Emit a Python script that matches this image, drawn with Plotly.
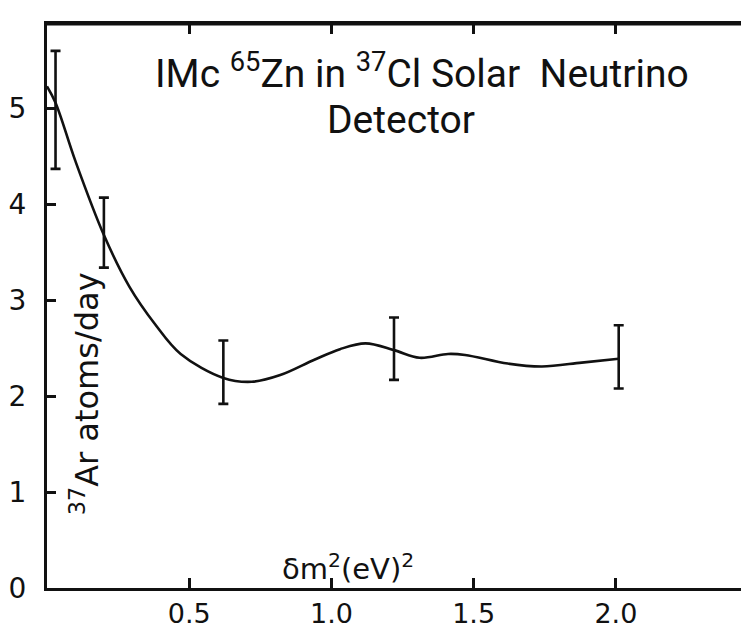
import plotly.graph_objects as go

# ---- data ----
curve_x = [0.0, 0.03, 0.10, 0.20, 0.29, 0.38, 0.47, 0.62, 0.72, 0.82, 0.94,
           1.03, 1.12, 1.22, 1.31, 1.41, 1.47, 1.62, 1.74, 1.88, 2.01]
curve_y = [5.23, 5.06, 4.45, 3.68, 3.14, 2.75, 2.44, 2.19, 2.15, 2.22, 2.38,
           2.49, 2.55, 2.48, 2.40, 2.44, 2.43, 2.34, 2.31, 2.35, 2.39]

bar_x = [0.03, 0.20, 0.62, 1.22, 2.01]
bar_hi = [5.60, 4.07, 2.58, 2.82, 2.74]
bar_lo = [4.37, 3.34, 1.92, 2.17, 2.08]

x_ticks = [0.5, 1.0, 1.5, 2.0]
x_tick_labels = ["0.5", "1.0", "1.5", "2.0"]
y_ticks = [0, 1, 2, 3, 4, 5]
y_tick_labels = ["0", "1", "2", "3", "4", "5"]

INK = "#111111"
TITLE_FONT = "Roboto"
WIDE_FONT = "DejaVu Sans"

bar_mid = [(h + l) / 2 for h, l in zip(bar_hi, bar_lo)]
bar_half = [(h - l) / 2 for h, l in zip(bar_hi, bar_lo)]

fig = go.Figure()
fig.add_trace(go.Scatter(
    x=curve_x, y=curve_y, mode="lines",
    line=dict(color=INK, width=2.6, shape="spline", smoothing=1.0),
    hoverinfo="skip", showlegend=False))
fig.add_trace(go.Scatter(
    x=bar_x, y=bar_mid, mode="markers",
    marker=dict(size=1, color="rgba(0,0,0,0)"),
    error_y=dict(type="data", array=bar_half, visible=True,
                 color=INK, thickness=2.6, width=5),
    showlegend=False))

fig.add_annotation(x=1.32, y=5.38, xref="x", yref="y", showarrow=False,
                   text="IMc <sup>65</sup>Zn in <sup>37</sup>Cl Solar  Neutrino",
                   font=dict(family=TITLE_FONT, size=39, color=INK))
fig.add_annotation(x=1.243, y=4.88, xref="x", yref="y", showarrow=False,
                   text="Detector",
                   font=dict(family=TITLE_FONT, size=39, color=INK))
fig.add_annotation(x=0.134, y=2.02, xref="x", yref="y", showarrow=False,
                   textangle=-90,
                   text="<sup>37</sup>Ar atoms/day",
                   font=dict(family=WIDE_FONT, size=32, color=INK))
fig.add_annotation(x=1.06, y=0.22, xref="x", yref="y", showarrow=False,
                   text="δm<sup>2</sup>(eV)<sup>2</sup>",
                   font=dict(family=WIDE_FONT, size=29, color=INK))

# top frame line of the plotting area
fig.add_shape(type="line", xref="paper", yref="paper", x0=0, x1=1, y0=1, y1=1,
              line=dict(color=INK, width=3), layer="above")

fig.update_layout(
    width=741, height=629,
    margin=dict(l=47, r=0, t=24, b=36),
    paper_bgcolor="white", plot_bgcolor="white",
    xaxis=dict(range=[0, 2.44], tickvals=x_ticks, ticktext=x_tick_labels,
               ticks="inside", ticklen=10, tickwidth=2.5, tickcolor=INK,
               showline=True, linecolor=INK, linewidth=3, mirror="allticks",
               showgrid=False, zeroline=False,
               tickfont=dict(family=WIDE_FONT, size=27, color=INK)),
    yaxis=dict(range=[0, 5.88], tickvals=y_ticks, ticktext=y_tick_labels,
               ticks="inside", ticklen=9, tickwidth=2.5, tickcolor=INK,
               showline=True, linecolor=INK, linewidth=3,
               showgrid=False, zeroline=False, ticklabelstandoff=12,
               tickfont=dict(family=WIDE_FONT, size=28, color=INK)),
)

fig.write_html(
    "out.html",
    config={"displayModeBar": False},
    post_script="document.body.style.margin='0';document.body.style.overflow='hidden';",
)
